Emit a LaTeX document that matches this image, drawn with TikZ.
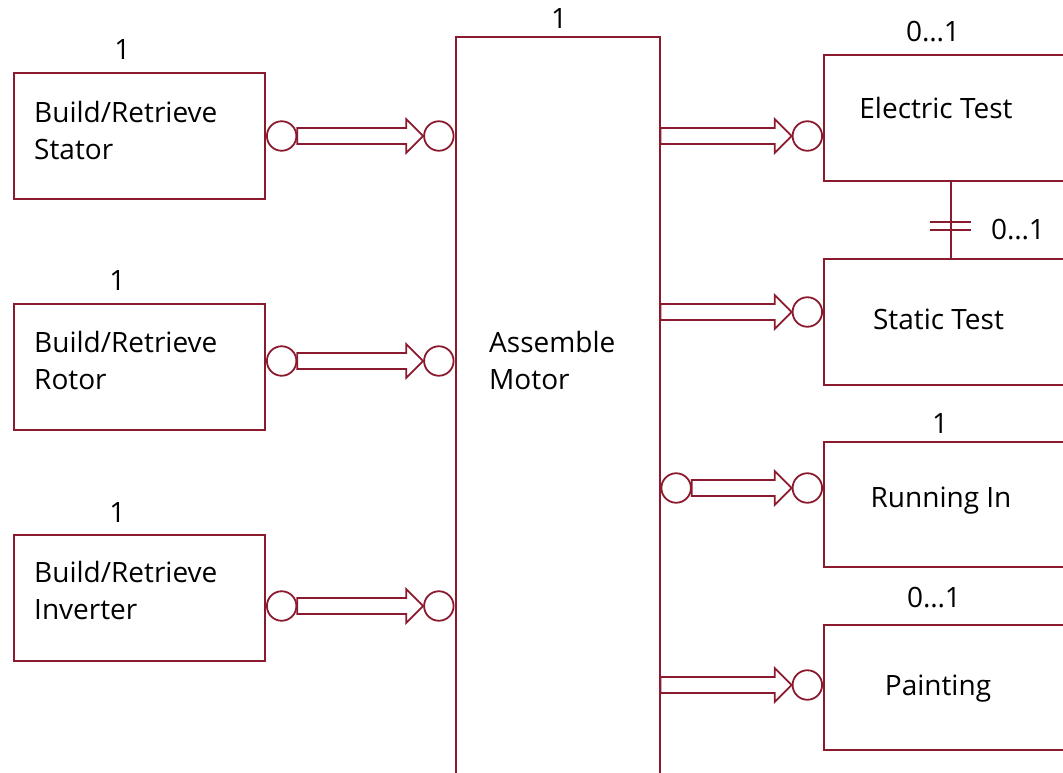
\documentclass[tikz,border=0pt]{standalone}
\usepackage{fontspec}
\setmainfont{Open Sans}
\usepackage{tikz}
\usetikzlibrary{positioning, calc}
\definecolor{maroon}{HTML}{8B1A2E}

% hollow block arrow between two points
\newcommand{\hollowarrow}[2]{%
  \draw[flow] ($(#1)+(0,-8)$) -- ($(#2)+(-17,-8)$) -- ($(#2)+(-17,-17)$) -- (#2)
    -- ($(#2)+(-17,17)$) -- ($(#2)+(-17,8)$) -- ($(#1)+(0,8)$) -- cycle;}

\begin{document}
\begin{tikzpicture}[
        x=1pt, y=-1pt,
        blk/.style={draw=maroon, line width=2pt, inner sep=0pt,
                    minimum width=251pt, minimum height=126pt},
        rblk/.style={blk, minimum width=254pt},
        port/.style={draw=maroon, line width=1.8pt, circle, inner sep=0pt,
                     minimum size=29.5pt},
        flow/.style={draw=maroon, line width=1.8pt, line join=miter},
        wire/.style={draw=maroon, line width=1.8pt},
        txt/.style={inner sep=0pt, align=left, text height=20pt, text depth=0pt,
                    font=\fontsize{28}{37}\selectfont}
    ]
      \useasboundingbox (0,0) rectangle (1063,773);

      % --- Build / retrieve boxes ---
      \node[blk] (stator) at (139.5,136) {};
      \node[blk] (rotor) at (139.5,367) {};
      \node[blk] (inverter) at (139.5,598) {};

      \node[txt, anchor=west] (statorTxt) at (34,150) {Build/Retrieve\\Stator};
      \node[txt, anchor=west] (rotorTxt) at (34,379.5) {Build/Retrieve\\Rotor};
      \node[txt, anchor=west] (inverterTxt) at (34,609) {Build/Retrieve\\Inverter};

      \node[txt] (statorNum) at (122.5,50) {1};
      \node[txt] (rotorNum) at (117.5,280) {1};
      \node[txt] (inverterNum) at (117.5,512) {1};

      % --- Assembly ---
      \node[blk, minimum width=204pt, minimum height=766pt] (asm) at (557.5,420) {};
      \node[txt, anchor=west] (asmTxt) at (489,379.5) {Assemble\\Motor};
      \node[txt] (asmNum) at (559,18.5) {1};

      % --- Test / finishing boxes ---
      \node[rblk] (elec) at (951,118) {};
      \node[rblk] (static) at (951,322) {};
      \node[rblk, minimum height=125pt] (running) at (951,504.5) {};
      \node[rblk, minimum height=125pt] (painting) at (951,687.5) {};

      \node[txt] (elecTxt) at (936,108.3) {Electric Test};
      \node[txt] (staticTxt) at (938.5,319) {Static Test};
      \node[txt] (runningTxt) at (941,497) {Running In};
      \node[txt] (paintingTxt) at (938,685) {Painting};

      \node[txt] (elecNum) at (933,31.5) {0…1};
      \node[txt] (staticNum) at (1018,229.5) {0…1};
      \node[txt] (runningNum) at (940,423) {1};
      \node[txt] (paintingNum) at (934,597) {0…1};

      % Ports on the left side
      \node[port, anchor=west] (statorOut) at (stator.east) {};
      \node[port, anchor=west] (rotorOut) at ($(rotor.east)+(0,-6)$) {};
      \node[port, anchor=west] (inverterOut) at ($(inverter.east)+(0,8)$) {};
      \node[port, anchor=east] (asmStator) at (asm.west |- statorOut) {};
      \node[port, anchor=east] (asmRotor) at (asm.west |- rotorOut) {};
      \node[port, anchor=east] (asmInverter) at (asm.west |- inverterOut) {};

      % Ports on the right side
      \node[port, anchor=east] (elecIn) at ($(elec.west)+(0,18)$) {};
      \node[port, anchor=east] (staticIn) at ($(static.west)+(0,-10)$) {};
      \node[port, anchor=east] (runningIn) at ($(running.west)+(0,-16.5)$) {};
      \node[port, anchor=east] (paintingIn) at ($(painting.west)+(0,-2.5)$) {};
      \node[port, anchor=west] (asmRunning) at (asm.east |- runningIn) {};
      \coordinate (asmElec) at (asm.east |- elecIn);
      \coordinate (asmStatic) at (asm.east |- staticIn);
      \coordinate (asmPainting) at (asm.east |- paintingIn);

      % Flows
      \hollowarrow{statorOut.east}{asmStator.west}
      \hollowarrow{rotorOut.east}{asmRotor.west}
      \hollowarrow{inverterOut.east}{asmInverter.west}
      \hollowarrow{asmElec}{elecIn.west}
      \hollowarrow{asmStatic}{staticIn.west}
      \hollowarrow{asmRunning.east}{runningIn.west}
      \hollowarrow{asmPainting}{paintingIn.west}

      % Link between the two tests
      \draw[wire] (elec.south) -- (static.north);
      \draw[wire] ($(elec.south)+(-21,40)$) -- +(41,0);
      \draw[wire] ($(elec.south)+(-21,48)$) -- +(41,0);
\end{tikzpicture}
\end{document}
